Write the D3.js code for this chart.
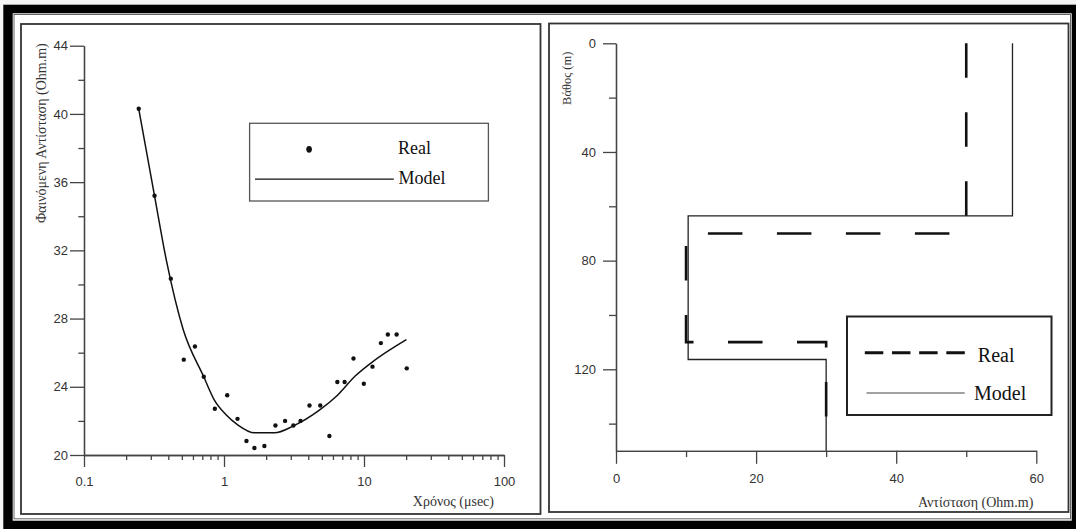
<!DOCTYPE html>
<html>
<head>
<meta charset="utf-8">
<script src="https://cdn.jsdelivr.net/npm/d3@7"></script>
<style>
html,body{margin:0;padding:0;background:#f4f4f4;}
svg{display:block;}
</style>
</head>
<body>
<svg id="chart" width="1076" height="529"></svg>
<script>
// ---------- DATA ----------
// Left chart: apparent resistivity vs time
const timeReal = [0.246,0.319,0.417,0.516,0.620,0.717,0.860,1.054,1.249,1.447,1.649,1.943,2.33,2.73,3.13,3.52,4.08,4.87,5.66,6.45,7.27,8.41,9.97,11.5,13.2,14.8,17.1,20.2];
const rhoReal  = [40.3,35.2,30.34,25.59,26.36,24.59,22.71,23.50,22.12,20.82,20.41,20.53,21.73,22.00,21.73,22.00,22.90,22.90,21.11,24.28,24.28,25.66,24.18,25.18,26.56,27.07,27.07,25.08];
const timeModel = [0.246,0.319,0.389,0.511,0.713,0.86,1.034,1.253,1.649,2.30,3.11,4.88,6.38,8.65,11.7,14.8,20.1];
const rhoModel  = [40.3,35.2,31.35,27.36,24.63,23.17,22.36,21.77,21.30,21.30,21.69,22.67,23.46,24.63,25.51,26.09,26.77];
const leftYMajor = [20,24,28,32,36,40,44];
const leftYMinor = [22,26,30,34,38,42];
const leftXMajor = [0.1,1,10,100];
const leftXMinor = [0.2,0.3,0.4,0.5,0.6,0.7,0.8,0.9,2,3,4,5,6,7,8,9,20,30,40,50,60,70,80,90];

// Right chart: resistivity vs depth (layered)
const resReal    = [50,50,10,10,30,30];
const depthReal  = [0,70,70,110,110,150];
const resModel   = [56.6,56.6,10.3,10.3,30,30];
const depthModel = [0,63.5,63.5,116.4,116.4,150];
const rightYMajor = [0,40,80,120];
const rightYMinor = [20,60,100,140];
const rightXMajor = [0,20,40,60];
const rightXMinor = [10,30,50];

const legendLabels = ["Real","Model"];
const leftTitles = {y:"Φαινόμενη Αντίσταση (Ohm.m)", x:"Χρόνος (μsec)"};
const rightTitles = {y:"Βάθος (m)", x:"Αντίσταση (Ohm.m)"};

// ---------- DRAW ----------
const svg = d3.select("#chart");
const SERIF = "'Liberation Serif','Times New Roman',serif";
const SANS = "'Liberation Sans',Arial,sans-serif";

// outer black frame
svg.append("rect").attr("x",3.3).attr("y",4.7).attr("width",1076-3.3).attr("height",529-4.7).attr("fill","#000");
svg.append("rect").attr("x",12.7).attr("y",13.3).attr("width",1071.7-12.7).attr("height",520.7-13.3).attr("fill","#fff");
svg.append("rect").attr("x",14).attr("y",14.5).attr("width",1070.5-14).attr("height",518.8-14.5)
  .attr("fill","none").attr("stroke","#666").attr("stroke-width",1);

// panels
svg.append("rect").attr("x",21).attr("y",24).attr("width",540.5-21).attr("height",514-24)
  .attr("fill","#fff").attr("stroke","#333").attr("stroke-width",1.8);
svg.append("rect").attr("x",549).attr("y",23.5).attr("width",1068.5-549).attr("height",512-23.5)
  .attr("fill","#fff").attr("stroke","#333").attr("stroke-width",1.8);

function styleAxis(g){
  g.attr("font-family",null);
  g.selectAll("path.domain").attr("stroke","#444").attr("stroke-width",1.3);
  g.selectAll(".tick line").attr("stroke","#444").attr("stroke-width",1.3);
  g.selectAll(".tick text").attr("fill","#333").style("font-family",SANS).style("font-size","13px");
}

// ===== LEFT CHART =====
const xL = d3.scaleLog().domain([0.1,100]).range([84,504]);
const yL = d3.scaleLinear().domain([20,44]).range([455,45.7]);

const gLx = svg.append("g").attr("transform","translate(0,455)")
  .call(d3.axisBottom(xL).tickValues(leftXMajor).tickFormat(d=>String(d)).tickSize(12).tickSizeOuter(0).tickPadding(10));
styleAxis(gLx);
const gLxm = svg.append("g").attr("transform","translate(0,455)")
  .call(d3.axisBottom(xL).tickValues(leftXMinor).tickFormat("").tickSize(5).tickSizeOuter(0));
styleAxis(gLxm);
const gLy = svg.append("g").attr("transform","translate(84,0)")
  .call(d3.axisLeft(yL).tickValues(leftYMajor).tickSize(14).tickSizeOuter(0).tickPadding(2));
styleAxis(gLy);
const gLym = svg.append("g").attr("transform","translate(84,0)")
  .call(d3.axisLeft(yL).tickValues(leftYMinor).tickFormat("").tickSize(5.7).tickSizeOuter(0));
styleAxis(gLym);

svg.append("text").attr("transform","translate(45.5,43.3) rotate(-90)")
  .attr("text-anchor","end").style("font-family",SERIF).style("font-size","14px").attr("fill","#333")
  .text(leftTitles.y);
svg.append("text").attr("x",494).attr("y",506).attr("text-anchor","end")
  .style("font-family",SERIF).style("font-size","14px").attr("fill","#333").text(leftTitles.x);

const modelPts = timeModel.map((t,i)=>[t,rhoModel[i]]);
svg.append("path").datum(modelPts)
  .attr("d", d3.line().x(d=>xL(d[0])).y(d=>yL(d[1])).curve(d3.curveMonotoneX))
  .attr("fill","none").attr("stroke","#111").attr("stroke-width",1.5);

const realPts = timeReal.map((t,i)=>[t,rhoReal[i]]);
svg.append("g").selectAll("circle").data(realPts).join("circle")
  .attr("cx",d=>xL(d[0])).attr("cy",d=>yL(d[1])).attr("r",2.2).attr("fill","#111");

// left legend
svg.append("rect").attr("x",249.6).attr("y",123.3).attr("width",238.8).attr("height",77.7)
  .attr("fill","#fff").attr("stroke","#555").attr("stroke-width",1.3);
svg.append("ellipse").attr("cx",309.1).attr("cy",149.3).attr("rx",2.8).attr("ry",3.4).attr("fill","#111");
svg.append("text").attr("x",397.9).attr("y",154.4).style("font-family",SERIF).style("font-size","18px")
  .attr("fill","#111").text(legendLabels[0]);
svg.append("line").attr("x1",255).attr("x2",393.8).attr("y1",179.1).attr("y2",179.1)
  .attr("stroke","#111").attr("stroke-width",1.3);
svg.append("text").attr("x",398.6).attr("y",183.6).style("font-family",SERIF).style("font-size","18px")
  .attr("fill","#111").text(legendLabels[1]);

// ===== RIGHT CHART =====
const xR = d3.scaleLinear().domain([0,60]).range([616,1036.3]);
const yR = d3.scaleLinear().domain([0,150]).range([43.3,450.8]);

const gRx = svg.append("g").attr("transform","translate(0,450.8)")
  .call(d3.axisBottom(xR).tickValues(rightXMajor).tickSize(13).tickSizeOuter(0).tickPadding(10));
styleAxis(gRx);
const gRxm = svg.append("g").attr("transform","translate(0,450.8)")
  .call(d3.axisBottom(xR).tickValues(rightXMinor).tickFormat("").tickSize(6.3).tickSizeOuter(0));
styleAxis(gRxm);
const gRy = svg.append("g").attr("transform","translate(616,0)")
  .call(d3.axisLeft(yR).tickValues(rightYMajor).tickSize(13).tickSizeOuter(0).tickPadding(7));
styleAxis(gRy);
const gRym = svg.append("g").attr("transform","translate(616,0)")
  .call(d3.axisLeft(yR).tickValues(rightYMinor).tickFormat("").tickSize(7).tickSizeOuter(0));
styleAxis(gRym);

svg.append("text").attr("transform","translate(571,51.7) rotate(-90)")
  .attr("text-anchor","end").style("font-family",SERIF).style("font-size","12.5px").attr("fill","#333")
  .text(rightTitles.y);
svg.append("text").attr("x",1033.3).attr("y",506.5).attr("text-anchor","end")
  .style("font-family",SERIF).style("font-size","14px").attr("fill","#333").text(rightTitles.x);

const stepLine = d3.line().x(d=>xR(d[0])).y(d=>yR(d[1]));
svg.append("path").datum(resModel.map((r,i)=>[r,depthModel[i]]))
  .attr("d",stepLine).attr("fill","none").attr("stroke","#222").attr("stroke-width",1.3);
svg.append("path").datum(resReal.map((r,i)=>[r,depthReal[i]]))
  .attr("d",stepLine).attr("fill","none").attr("stroke","#111").attr("stroke-width",2.6)
  .attr("stroke-dasharray","34.5,34.5");

// right legend
svg.append("rect").attr("x",847).attr("y",316.5).attr("width",204.5).attr("height",98.5)
  .attr("fill","#fff").attr("stroke","#222").attr("stroke-width",2);
svg.append("line").attr("x1",864.8).attr("x2",964.8).attr("y1",352.8).attr("y2",352.8)
  .attr("stroke","#111").attr("stroke-width",3).attr("stroke-dasharray","18.5,8.67");
svg.append("text").attr("x",977.8).attr("y",362.3).style("font-family",SERIF).style("font-size","20px")
  .attr("fill","#111").text(legendLabels[0]);
svg.append("line").attr("x1",866.5).attr("x2",964.7).attr("y1",393).attr("y2",393)
  .attr("stroke","#444").attr("stroke-width",1.2);
svg.append("text").attr("x",974).attr("y",399.5).style("font-family",SERIF).style("font-size","20px")
  .attr("fill","#111").text(legendLabels[1]);
</script>
</body>
</html>
